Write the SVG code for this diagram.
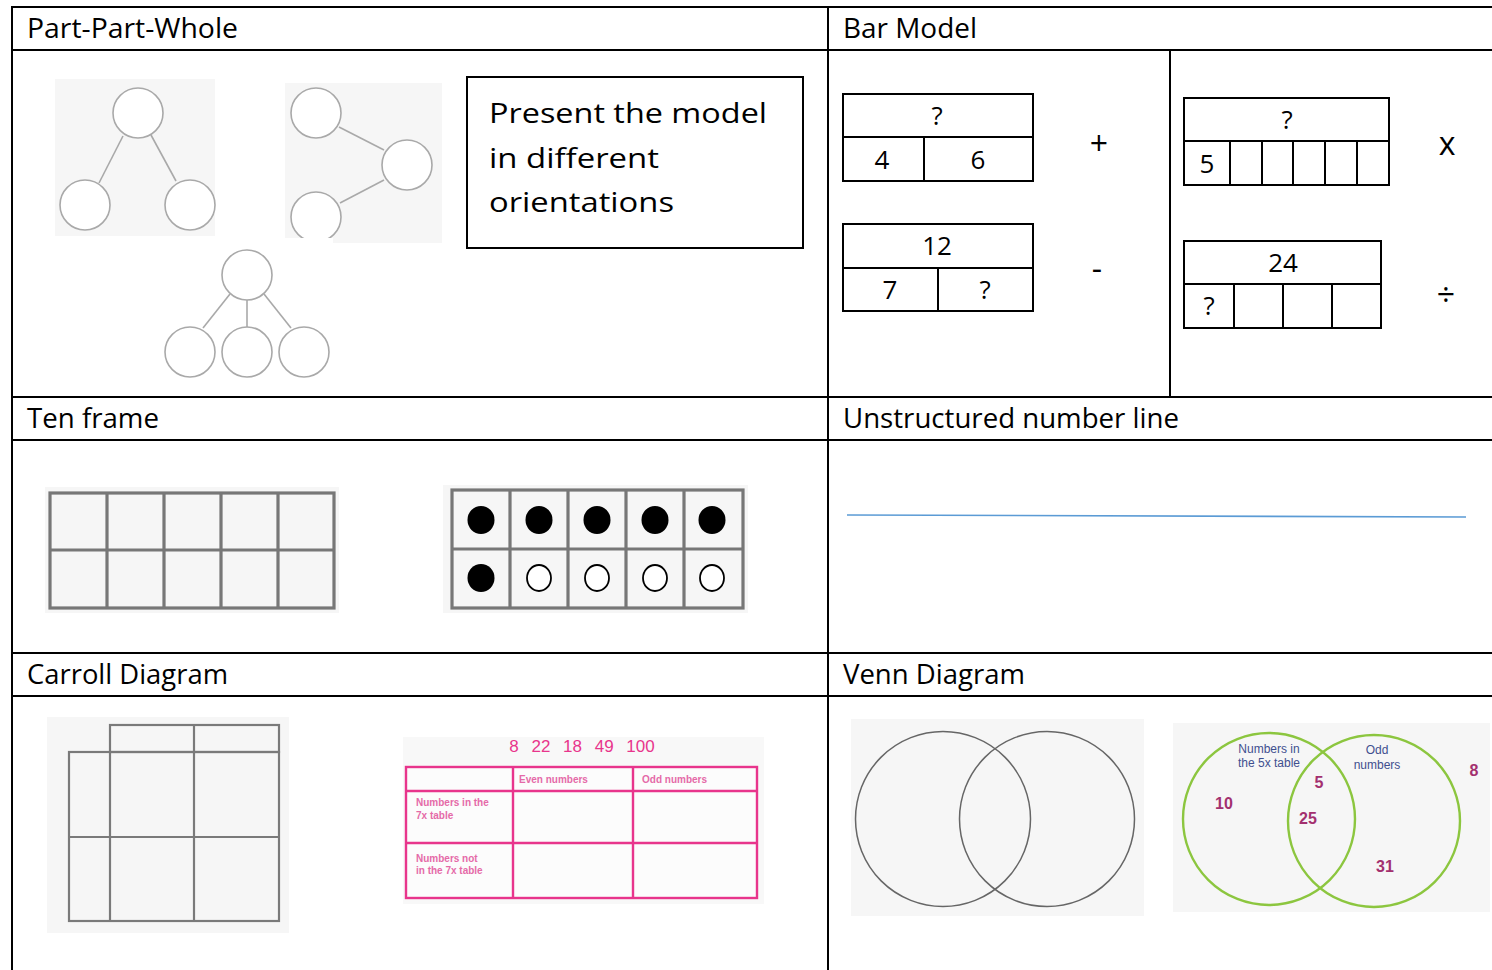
<svg xmlns="http://www.w3.org/2000/svg" width="1492" height="970" viewBox="0 0 1492 970">
  <defs>
    <style>
      .grid { stroke: #000; stroke-width: 2; fill: none; }
      .hdr { font-family: "Open Sans", "Noto Sans", sans-serif; font-size: 27px; fill: #000; }
      .bar { fill: #fff; stroke: #000; stroke-width: 2; }
      .barline { stroke: #000; stroke-width: 2; }
      .bartxt { font-family: "Open Sans", "Noto Sans", sans-serif; font-size: 26px; fill: #000; text-anchor: middle; }
      .op { font-family: "Open Sans", "Noto Sans", sans-serif; font-size: 32px; fill: #000; text-anchor: middle; }
      .pic { fill: #f6f6f6; }
      .ppw { fill: #fff; stroke: #a9a9a9; stroke-width: 1.6; }
      .ppwl { stroke: #a9a9a9; stroke-width: 1.6; }
      .tf { stroke: #777; stroke-width: 3.2; fill: none; }
      .cg { stroke: #7a7a7a; stroke-width: 2.2; fill: none; }
      .pink { stroke: #e8358c; stroke-width: 2.4; fill: none; }
      .pinktxt { font-family: "Liberation Sans", Arial, sans-serif; font-size: 10px; font-weight: bold; fill: #e56aa8; }
      .vg { stroke: #8cc63f; stroke-width: 2.4; fill: none; }
      .vnum { font-family: "Liberation Sans", Arial, sans-serif; font-size: 16px; font-weight: bold; fill: #a3306f; text-anchor: middle; }
      .vlab { font-family: "Liberation Sans", Arial, sans-serif; font-size: 12px; fill: #3f4f8f; text-anchor: middle; }
    </style>
    <filter id="soft" x="-5%" y="-5%" width="110%" height="110%">
      <feGaussianBlur stdDeviation="0.6"/>
    </filter>
  </defs>

  <rect width="1492" height="970" fill="#fff"/>

  <!-- table rules -->
  <g id="table">
    <line class="grid" x1="11" y1="7" x2="1492" y2="7"/>
    <line class="grid" x1="11" y1="50" x2="1492" y2="50"/>
    <line class="grid" x1="11" y1="397" x2="1492" y2="397"/>
    <line class="grid" x1="11" y1="440" x2="1492" y2="440"/>
    <line class="grid" x1="11" y1="653" x2="1492" y2="653"/>
    <line class="grid" x1="11" y1="696" x2="1492" y2="696"/>
    <line class="grid" x1="12" y1="6" x2="12" y2="970"/>
    <line class="grid" x1="828" y1="6" x2="828" y2="970"/>
    <line class="grid" x1="1170" y1="50" x2="1170" y2="397"/>
  </g>

  <!-- section headings -->
  <g id="headings">
    <text class="hdr" x="27" y="38" textLength="211" lengthAdjust="spacingAndGlyphs">Part-Part-Whole</text>
    <text class="hdr" x="843" y="38" textLength="134" lengthAdjust="spacingAndGlyphs">Bar Model</text>
    <text class="hdr" x="27" y="428" textLength="132" lengthAdjust="spacingAndGlyphs">Ten frame</text>
    <text class="hdr" x="843" y="428" textLength="336" lengthAdjust="spacingAndGlyphs">Unstructured number line</text>
    <text class="hdr" x="27" y="684" textLength="201" lengthAdjust="spacingAndGlyphs">Carroll Diagram</text>
    <text class="hdr" x="843" y="684" textLength="182" lengthAdjust="spacingAndGlyphs">Venn Diagram</text>
  </g>

  <!-- part-part-whole, whole on top -->
  <g id="ppw-top">
    <rect class="pic" x="55" y="79" width="160" height="157"/>
    <line class="ppwl" x1="123" y1="136" x2="99" y2="183"/>
    <line class="ppwl" x1="151" y1="135" x2="176" y2="181"/>
    <circle class="ppw" cx="138" cy="113" r="25"/>
    <circle class="ppw" cx="85" cy="205" r="25"/>
    <circle class="ppw" cx="190" cy="205" r="25"/>
  </g>

  <!-- part-part-whole, whole on the right -->
  <g id="ppw-side">
    <clipPath id="sideclip"><rect x="285" y="83" width="157" height="160"/></clipPath>
    <rect class="pic" x="285" y="83" width="157" height="155"/>
    <rect class="pic" x="333" y="236" width="109" height="7"/>
    <g clip-path="url(#sideclip)">
      <line class="ppwl" x1="339" y1="127" x2="384" y2="150"/>
      <line class="ppwl" x1="384" y1="180" x2="340" y2="203"/>
      <circle class="ppw" cx="316" cy="113" r="25"/>
      <circle class="ppw" cx="407" cy="165" r="25"/>
      <circle class="ppw" cx="316" cy="217" r="25"/>
      <rect x="285" y="238" width="48" height="6" fill="#fff"/>
    </g>
  </g>

  <!-- part-part-whole, three parts -->
  <g id="ppw-three">
    <line class="ppwl" x1="230" y1="294" x2="203" y2="328"/>
    <line class="ppwl" x1="247" y1="300" x2="247" y2="327"/>
    <line class="ppwl" x1="264" y1="294" x2="291" y2="328"/>
    <circle class="ppw" cx="247" cy="275" r="25"/>
    <circle class="ppw" cx="190" cy="352" r="25"/>
    <circle class="ppw" cx="247" cy="352" r="25"/>
    <circle class="ppw" cx="304" cy="352" r="25"/>
  </g>

  <!-- note box -->
  <g id="ppw-note">
    <rect x="467" y="77" width="336" height="171" fill="#fff" stroke="#000" stroke-width="2"/>
    <text class="hdr" x="489" y="123" font-size="35" textLength="278" lengthAdjust="spacingAndGlyphs">Present the model</text>
    <text class="hdr" x="489" y="168" font-size="35" textLength="170" lengthAdjust="spacingAndGlyphs">in different</text>
    <text class="hdr" x="489" y="212" font-size="35" textLength="185" lengthAdjust="spacingAndGlyphs">orientations</text>
  </g>

  <!-- bar model: addition -->
  <g id="bar-add">
    <rect class="bar" x="843" y="94" width="190" height="87"/>
    <line class="barline" x1="843" y1="137" x2="1033" y2="137"/>
    <line class="barline" x1="924" y1="137" x2="924" y2="181"/>
    <text class="bartxt" x="937" y="125">?</text>
    <text class="bartxt" x="882" y="169">4</text>
    <text class="bartxt" x="978" y="169">6</text>
    <text class="op" x="1099" y="155">+</text>
  </g>

  <!-- bar model: subtraction -->
  <g id="bar-sub">
    <rect class="bar" x="843" y="224" width="190" height="87"/>
    <line class="barline" x1="843" y1="268" x2="1033" y2="268"/>
    <line class="barline" x1="938" y1="268" x2="938" y2="311"/>
    <text class="bartxt" x="937" y="255">12</text>
    <text class="bartxt" x="890" y="299">7</text>
    <text class="bartxt" x="985" y="299">?</text>
    <text class="op" x="1097" y="280">-</text>
  </g>

  <!-- bar model: multiplication -->
  <g id="bar-mul">
    <rect class="bar" x="1184" y="98" width="205" height="87"/>
    <line class="barline" x1="1184" y1="141" x2="1389" y2="141"/>
    <line class="barline" x1="1230" y1="141" x2="1230" y2="185"/>
    <line class="barline" x1="1262" y1="141" x2="1262" y2="185"/>
    <line class="barline" x1="1293" y1="141" x2="1293" y2="185"/>
    <line class="barline" x1="1325" y1="141" x2="1325" y2="185"/>
    <line class="barline" x1="1357" y1="141" x2="1357" y2="185"/>
    <text class="bartxt" x="1287" y="129">?</text>
    <text class="bartxt" x="1207" y="173">5</text>
    <text class="op" x="1447" y="155">x</text>
  </g>

  <!-- bar model: division -->
  <g id="bar-div">
    <rect class="bar" x="1184" y="241" width="197" height="87"/>
    <line class="barline" x1="1184" y1="284" x2="1381" y2="284"/>
    <line class="barline" x1="1234" y1="284" x2="1234" y2="328"/>
    <line class="barline" x1="1283" y1="284" x2="1283" y2="328"/>
    <line class="barline" x1="1332" y1="284" x2="1332" y2="328"/>
    <text class="bartxt" x="1283" y="272">24</text>
    <text class="bartxt" x="1209" y="315">?</text>
    <text class="op" x="1446" y="306">÷</text>
  </g>

  <!-- empty ten frame -->
  <g id="tenframe-empty">
    <rect class="pic" x="45" y="487" width="294" height="126"/>
    <rect class="tf" x="50" y="493" width="284" height="115"/>
    <line class="tf" x1="50" y1="550" x2="334" y2="550"/>
    <line class="tf" x1="107" y1="493" x2="107" y2="608"/>
    <line class="tf" x1="164" y1="493" x2="164" y2="608"/>
    <line class="tf" x1="221" y1="493" x2="221" y2="608"/>
    <line class="tf" x1="278" y1="493" x2="278" y2="608"/>
  </g>

  <!-- ten frame showing six -->
  <g id="tenframe-six">
    <rect class="pic" x="443" y="485" width="305" height="128"/>
    <rect class="tf" x="452" y="490" width="291" height="118"/>
    <line class="tf" x1="452" y1="549" x2="743" y2="549"/>
    <line class="tf" x1="510" y1="490" x2="510" y2="608"/>
    <line class="tf" x1="568" y1="490" x2="568" y2="608"/>
    <line class="tf" x1="626" y1="490" x2="626" y2="608"/>
    <line class="tf" x1="684" y1="490" x2="684" y2="608"/>
    <ellipse cx="481" cy="520" rx="13.5" ry="14" fill="#000"/>
    <ellipse cx="539" cy="520" rx="13.5" ry="14" fill="#000"/>
    <ellipse cx="597" cy="520" rx="13.5" ry="14" fill="#000"/>
    <ellipse cx="655" cy="520" rx="13.5" ry="14" fill="#000"/>
    <ellipse cx="712" cy="520" rx="13.5" ry="14" fill="#000"/>
    <ellipse cx="481" cy="578" rx="13.5" ry="14" fill="#000"/>
    <ellipse cx="539" cy="578" rx="12" ry="13" fill="#fff" stroke="#000" stroke-width="1.8"/>
    <ellipse cx="597" cy="578" rx="12" ry="13" fill="#fff" stroke="#000" stroke-width="1.8"/>
    <ellipse cx="655" cy="578" rx="12" ry="13" fill="#fff" stroke="#000" stroke-width="1.8"/>
    <ellipse cx="712" cy="578" rx="12" ry="13" fill="#fff" stroke="#000" stroke-width="1.8"/>
  </g>

  <!-- number line -->
  <g id="number-line">
    <line x1="847" y1="515" x2="1466" y2="517" stroke="#5b9bd5" stroke-width="1.6"/>
  </g>

  <!-- blank Carroll grid -->
  <g id="carroll-blank">
    <rect class="pic" x="47" y="717" width="242" height="216"/>
    <g filter="url(#soft)">
      <rect class="cg" x="110" y="725" width="169" height="27"/>
      <rect class="cg" x="69" y="752" width="210" height="169"/>
      <line class="cg" x1="69" y1="837" x2="279" y2="837"/>
      <line class="cg" x1="110" y1="752" x2="110" y2="921"/>
      <line class="cg" x1="194" y1="725" x2="194" y2="921"/>
    </g>
  </g>

  <!-- filled Carroll diagram -->
  <g id="carroll-sorted">
    <rect x="403" y="737" width="361" height="167" fill="#f8f8f8"/>
    <text x="582" y="752" font-family="Liberation Sans, Arial, sans-serif" font-size="17" fill="#e8358c" text-anchor="middle" word-spacing="8">8 22 18 49 100</text>
    <rect x="406" y="767" width="351" height="131" fill="#fcfcfc"/>
    <rect class="pink" x="406" y="767" width="351" height="131"/>
    <line class="pink" x1="406" y1="791" x2="757" y2="791"/>
    <line class="pink" x1="406" y1="843" x2="757" y2="843"/>
    <line class="pink" x1="513" y1="767" x2="513" y2="898"/>
    <line class="pink" x1="633" y1="767" x2="633" y2="898"/>
    <text class="pinktxt" x="519" y="783">Even numbers</text>
    <text class="pinktxt" x="642" y="783">Odd numbers</text>
    <text class="pinktxt" x="416" y="806">Numbers in the</text>
    <text class="pinktxt" x="416" y="819">7x table</text>
    <text class="pinktxt" x="416" y="862">Numbers not</text>
    <text class="pinktxt" x="416" y="874">in the 7x table</text>
  </g>

  <!-- blank Venn -->
  <g id="venn-blank">
    <rect class="pic" x="851" y="719" width="293" height="197"/>
    <circle cx="943" cy="819" r="87.5" fill="none" stroke="#666" stroke-width="1.5"/>
    <circle cx="1047" cy="819" r="87.5" fill="none" stroke="#666" stroke-width="1.5"/>
  </g>

  <!-- sorted Venn -->
  <g id="venn-sorted">
    <rect class="pic" x="1173" y="723" width="317" height="189"/>
    <circle class="vg" cx="1269" cy="819" r="86"/>
    <circle class="vg" cx="1374" cy="821" r="86"/>
    <text class="vlab" x="1269" y="753">Numbers in</text>
    <text class="vlab" x="1269" y="767">the 5x table</text>
    <text class="vlab" x="1377" y="754">Odd</text>
    <text class="vlab" x="1377" y="769">numbers</text>
    <text class="vnum" x="1474" y="776">8</text>
    <text class="vnum" x="1319" y="788">5</text>
    <text class="vnum" x="1224" y="809">10</text>
    <text class="vnum" x="1308" y="824">25</text>
    <text class="vnum" x="1385" y="872">31</text>
  </g>
</svg>
